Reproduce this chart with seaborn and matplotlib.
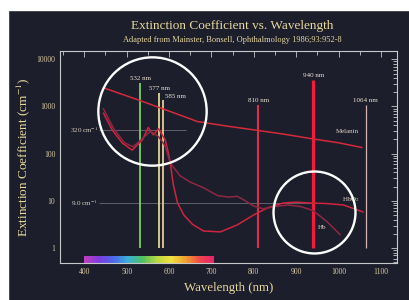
import numpy as np
import pandas as pd
import matplotlib
matplotlib.use("Agg")
import matplotlib.pyplot as plt
import seaborn as sns
from matplotlib.patches import Rectangle
from matplotlib.colors import LinearSegmentedColormap
from matplotlib.ticker import MultipleLocator, FixedLocator, LogLocator, NullFormatter

# curves (nm, cm^-1)
hbo2_nm = [445, 466, 490, 513, 537, 551, 563, 575, 591, 598, 603, 610, 620, 635, 655,
           681, 721, 761, 799, 832, 869, 900, 933, 970, 1011, 1058]
hbo2_val = [730, 316, 167, 119, 195, 360, 250, 340, 195, 107, 63, 22, 9.0, 5.0, 3.2,
            2.3, 2.2, 3.1, 5.0, 7.1, 9.0, 9.4, 9.0, 8.8, 8.2, 5.8]

hb_nm = [445, 470, 495, 515, 535, 556, 575, 590, 603, 626, 650, 681, 714, 740, 761,
         780, 799, 822, 850, 880, 910, 940, 973, 1004]
hb_val = [900, 330, 170, 140, 200, 300, 230, 150, 63, 34, 25, 19, 13, 12, 12.5,
          10, 7.8, 6.8, 7.6, 8.2, 7.6, 6.2, 3.6, 1.9]

mel_nm = [445, 530, 600, 667, 740, 800, 870, 933, 1000, 1055]
mel_val = [2500, 1350, 800, 480, 380, 320, 260, 210, 170, 135]

# laser lines
laser_nm = [532, 577, 585, 810, 940, 1064]
laser_top = [3100, 1900, 1360, 1070, 3600, 1070]
laser_lbl = ["532 nm", "577 nm", "585 nm", "810 nm", "940 nm", "1064 nm"]
laser_col = ["#7ccf6a", "#e0d890", "#e8c898", "#d8304a", "#f01c3c", "#d8b0b0"]
laser_lw = [1.3, 1.3, 1.3, 1.5, 2.3, 0.9]

# reference levels
ref_val = [320, 9.0]
ref_lbl = ["320 cm$^{-1}$", "9.0 cm$^{-1}$"]
ref_end = [640, 940]

spec_stops = ["#c03cc0", "#7a3ce0", "#4a6ae8", "#3ab0d8", "#50c060", "#b8d840",
              "#f0e040", "#f0a030", "#f04848", "#e82070"]

bg = "#1c1e2c"
txt = "#e6d89c"
sns.set_style("dark")
plt.rcParams["font.family"] = ["Liberation Serif", "DejaVu Serif"]
plt.rcParams["mathtext.fontset"] = "stix"

df = pd.concat([
    pd.DataFrame({"nm": hbo2_nm, "val": hbo2_val, "curve": "HbO2"}),
    pd.DataFrame({"nm": hb_nm, "val": hb_val, "curve": "Hb"}),
    pd.DataFrame({"nm": mel_nm, "val": mel_val, "curve": "Melanin"}),
])

fig = plt.figure(figsize=(4.09, 3.0), dpi=100, facecolor=bg)
ax = fig.add_axes([0.147, 0.123, 0.824, 0.707])
ax.set_facecolor(bg)
ax.set_yscale("log")
ax.set_xlim(343, 1138)
ax.set_ylim(0.48, 15000)

# spectrum strip along the bottom
cmap = LinearSegmentedColormap.from_list("spec", spec_stops)
edges = np.linspace(400, 705, 80)
for a, b in zip(edges[:-1], edges[1:]):
    ax.axvspan(a, b, ymin=0, ymax=0.035, color=cmap((a - 400) / 305), lw=0, zorder=1)

for v, e, lab in zip(ref_val, ref_end, ref_lbl):
    ax.hlines(v, 435, e, color="#8a8a90", lw=0.6, alpha=0.7, zorder=1)
    ax.text(432, v, lab, color="#d8d0c0", fontsize=5, ha="right", va="center")

for x, top, c, w, lab in zip(laser_nm, laser_top, laser_col, laser_lw, laser_lbl):
    ax.vlines(x, 1.0, top, color=c, lw=w, zorder=2)
    if lab == "585 nm":
        ax.text(x + 5, top * 1.05, lab, color="#ece4d4", fontsize=5, ha="left", va="bottom")
    else:
        ax.text(x, top * 1.12, lab, color="#ece4d4", fontsize=5, ha="center", va="bottom")

sns.lineplot(data=df, x="nm", y="val", hue="curve", ax=ax, legend=False,
             palette={"HbO2": "#d0243e", "Hb": "#8e2842", "Melanin": "#d42a3a"},
             linewidth=1.1, zorder=3)

ax.text(1020, 300, "Melanin", color="#e0d0c4", fontsize=5, ha="center", va="center")
ax.text(1030, 10.5, "HbO$_2$", color="#e0d0c4", fontsize=5, ha="center", va="center")
ax.text(962, 2.7, "Hb", color="#e0d0c4", fontsize=5, ha="center", va="center")

# highlight circles
ax.plot([560], [800], marker="o", ms=78, mfc="none", mec="white", mew=1.7, zorder=4)
ax.plot([942], [5.9], marker="o", ms=59, mfc="none", mec="white", mew=1.7, zorder=4)

for s in ax.spines.values():
    s.set_color("#c8c8c8")
    s.set_linewidth(0.8)
ax.xaxis.set_major_locator(FixedLocator([400, 500, 600, 700, 800, 900, 1000, 1100]))
ax.xaxis.set_minor_locator(MultipleLocator(50))
ax.yaxis.set_major_locator(LogLocator(base=10))
ax.yaxis.set_minor_locator(LogLocator(base=10, subs=np.arange(2, 10)))
ax.yaxis.set_minor_formatter(NullFormatter())
ax.yaxis.set_major_formatter(plt.FuncFormatter(lambda v, p: f"{v:g}"))
ax.tick_params(which="both", direction="in", top=True, right=True, colors="#c8c8c8",
               labelcolor="#d8c8a0", labelsize=5.5, width=0.6)
ax.tick_params(which="major", length=4)
ax.tick_params(which="minor", length=3)
ax.grid(False)

ax.set_xlabel("Wavelength (nm)", color=txt, fontsize=9.3, labelpad=4)
ax.set_ylabel("Extinction Coefficient (cm$^{-1}$)", color=txt, fontsize=9.5)
ax.yaxis.set_label_coords(-0.083, 0.5)

fig.text(0.567, 0.915, "Extinction Coefficient vs. Wavelength", color=txt,
         fontsize=9.5, ha="center", va="center")
fig.text(0.567, 0.865, "Adapted from Mainster, Bonsell, Ophthalmology 1986;93:952-8",
         color=txt, fontsize=6, ha="center", va="center")

# white scan margins
fig.patches.append(Rectangle((0, 0.967), 1, 0.033, transform=fig.transFigure,
                             color="white", zorder=10))
fig.patches.append(Rectangle((0, 0), 0.02, 1, transform=fig.transFigure,
                             color="white", zorder=10))

fig.savefig("out.png", dpi=100, facecolor=bg)
